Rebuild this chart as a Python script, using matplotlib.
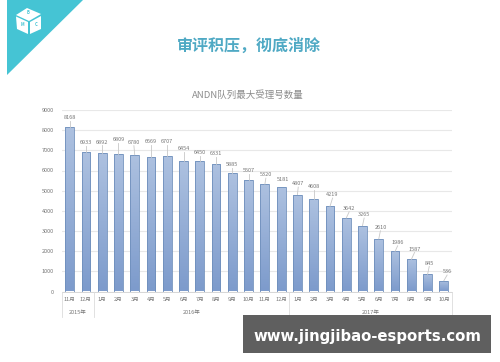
#!/usr/bin/env python3
import numpy as np
import matplotlib
matplotlib.use('Agg')
import matplotlib.pyplot as plt
from matplotlib.patches import Polygon, Rectangle

plt.rcParams['font.family'] = ['Noto Sans CJK SC', 'DejaVu Sans']

# data
months = ['11月', '12月', '1月', '2月', '3月', '4月', '5月', '6月', '7月', '8月', '9月', '10月',
          '11月', '12月', '1月', '2月', '3月', '4月', '5月', '6月', '7月', '8月', '9月', '10月']
values = [8168, 6933, 6892, 6809, 6780, 6669, 6707, 6454, 6450, 6331, 5885, 5507,
          5320, 5181, 4807, 4608, 4219, 3642, 3265, 2610, 1986, 1587, 845, 536]
years = ['2015年', '2016年', '2017年']
year_counts = [2, 12, 10]
y_ticks = [0, 1000, 2000, 3000, 4000, 5000, 6000, 7000, 8000, 9000]

TEAL = '#45c4d4'
W, H = 500, 362

fig = plt.figure(figsize=(W / 100, H / 100), dpi=100, facecolor='white')

# plot area in pixel terms
left, right, top, bottom = 61.5, 452, 110, 291.5
ax = fig.add_axes([left / W, 1 - bottom / H, (right - left) / W, (bottom - top) / H])
ax.set_xlim(-0.5, len(values) - 0.5)
ax.set_ylim(0, 9000)
ax.set_yticks(y_ticks)
ax.tick_params(axis='y', length=0, labelsize=4, labelcolor='#777777', pad=5.5)
ax.set_xticks([])
ax.grid(axis='y', color='#e8e8e8', linewidth=0.8)
ax.set_axisbelow(True)
for s in ax.spines.values():
    s.set_visible(False)
ax.spines['bottom'].set_visible(True)
ax.spines['bottom'].set_color('#d0d0d0')
ax.spines['bottom'].set_linewidth(0.6)

# gradient bars
grad = np.linspace(0, 1, 64).reshape(-1, 1)
cmap = matplotlib.colors.LinearSegmentedColormap.from_list('bar', ['#adc1e0', '#7d9bcc'])
bars = ax.bar(range(len(values)), values, width=0.54, facecolor='none',
              edgecolor='#6f8fbc', linewidth=0.6, zorder=3)
for b in bars:
    x0, w, h = b.get_x(), b.get_width(), b.get_height()
    im = ax.imshow(grad, extent=[x0, x0 + w, 0, h], aspect='auto', cmap=cmap, zorder=2)
    im.set_clip_path(Rectangle((x0, 0), w, h, transform=ax.transData))
ax.set_xlim(-0.5, len(values) - 0.5)
ax.set_ylim(0, 9000)

# value labels with small leader lines, gap above the bar varies in the original
gaps = [300, 300, 350, 550, 450, 600, 550, 450, 270, 350, 240, 320,
        300, 200, 370, 420, 415, 310, 375, 400, 280, 350, 400, 280]
slants = [0, 0, 0, 0, -0.05, 0, 0, 0, 0, 0, 0, 0,
          0.06, 0.12, 0.05, 0, 0.16, 0.18, 0.1, 0.1, 0.16, 0.2, 0.1, 0.2]
for i, v in enumerate(values):
    ty = v + gaps[i]
    if gaps[i] >= 240:
        ax.plot([i, i + slants[i]], [v, ty], color='#c8c8c8', linewidth=0.6, zorder=4)
    ax.text(i + slants[i], ty + 40, str(v), ha='center', va='bottom', fontsize=4,
            color='#777777', zorder=5)

# overlay in pixel coordinates, for the category axis and decoration
ov = fig.add_axes([0, 0, 1, 1], facecolor='none')
ov.set_xlim(0, W)
ov.set_ylim(H, 0)
ov.axis('off')

step = (right - left) / len(values)
for i, m in enumerate(months):
    ov.text(left + step * (i + 0.5), 299.5, m, ha='center', va='center', fontsize=4, color='#777777')

start = 0
for name, n in zip(years, year_counts):
    x0 = left + step * start
    x1 = left + step * (start + n)
    ov.plot([x0, x0], [292, 317], color='#dcdcdc', linewidth=0.6)
    ov.text((x0 + x1) / 2, 312, name, ha='center', va='center', fontsize=4, color='#777777')
    start += n
ov.plot([right, right], [292, 317], color='#dcdcdc', linewidth=0.6)

# corner triangle and cube icon
ov.add_patch(Polygon([(7, 0), (83, 0), (7, 75)], closed=True, facecolor=TEAL, edgecolor='none'))
ov.add_patch(Polygon([(16, 15), (27, 8), (41, 14), (29, 21)], closed=True, facecolor='white', edgecolor='none'))
ov.add_patch(Polygon([(16, 16.5), (28, 22), (28, 34), (17, 29)], closed=True, facecolor='white', edgecolor='none'))
ov.add_patch(Polygon([(30, 22), (41, 16), (41, 29), (30, 34)], closed=True, facecolor='white', edgecolor='none'))
ov.text(28, 13, 'B', fontsize=3, color=TEAL, ha='center', va='center', fontweight='bold')
ov.text(22, 25, 'M', fontsize=3, color=TEAL, ha='center', va='center', fontweight='bold')
ov.text(36, 25, 'C', fontsize=3, color=TEAL, ha='center', va='center', fontweight='bold')

# headings
ov.text(249, 46, '审评积压，彻底消除', ha='center', va='center', fontsize=11.5,
        fontweight='bold', color='#4fa9c4')
ov.text(248, 95.5, 'ANDN队列最大受理号数量', ha='center', va='center', fontsize=6.8, color='#8c8c8c')

# watermark banner
ov.add_patch(Rectangle((243, 315), 248, 38, facecolor='#5f5f5f', edgecolor='none', zorder=6))
ov.text(367, 337, 'www.jingjibao-esports.com', ha='center', va='center', fontsize=10.7,
        fontweight='bold', color='white', family=['DejaVu Sans'], zorder=7)

fig.savefig('out.png', dpi=100)
